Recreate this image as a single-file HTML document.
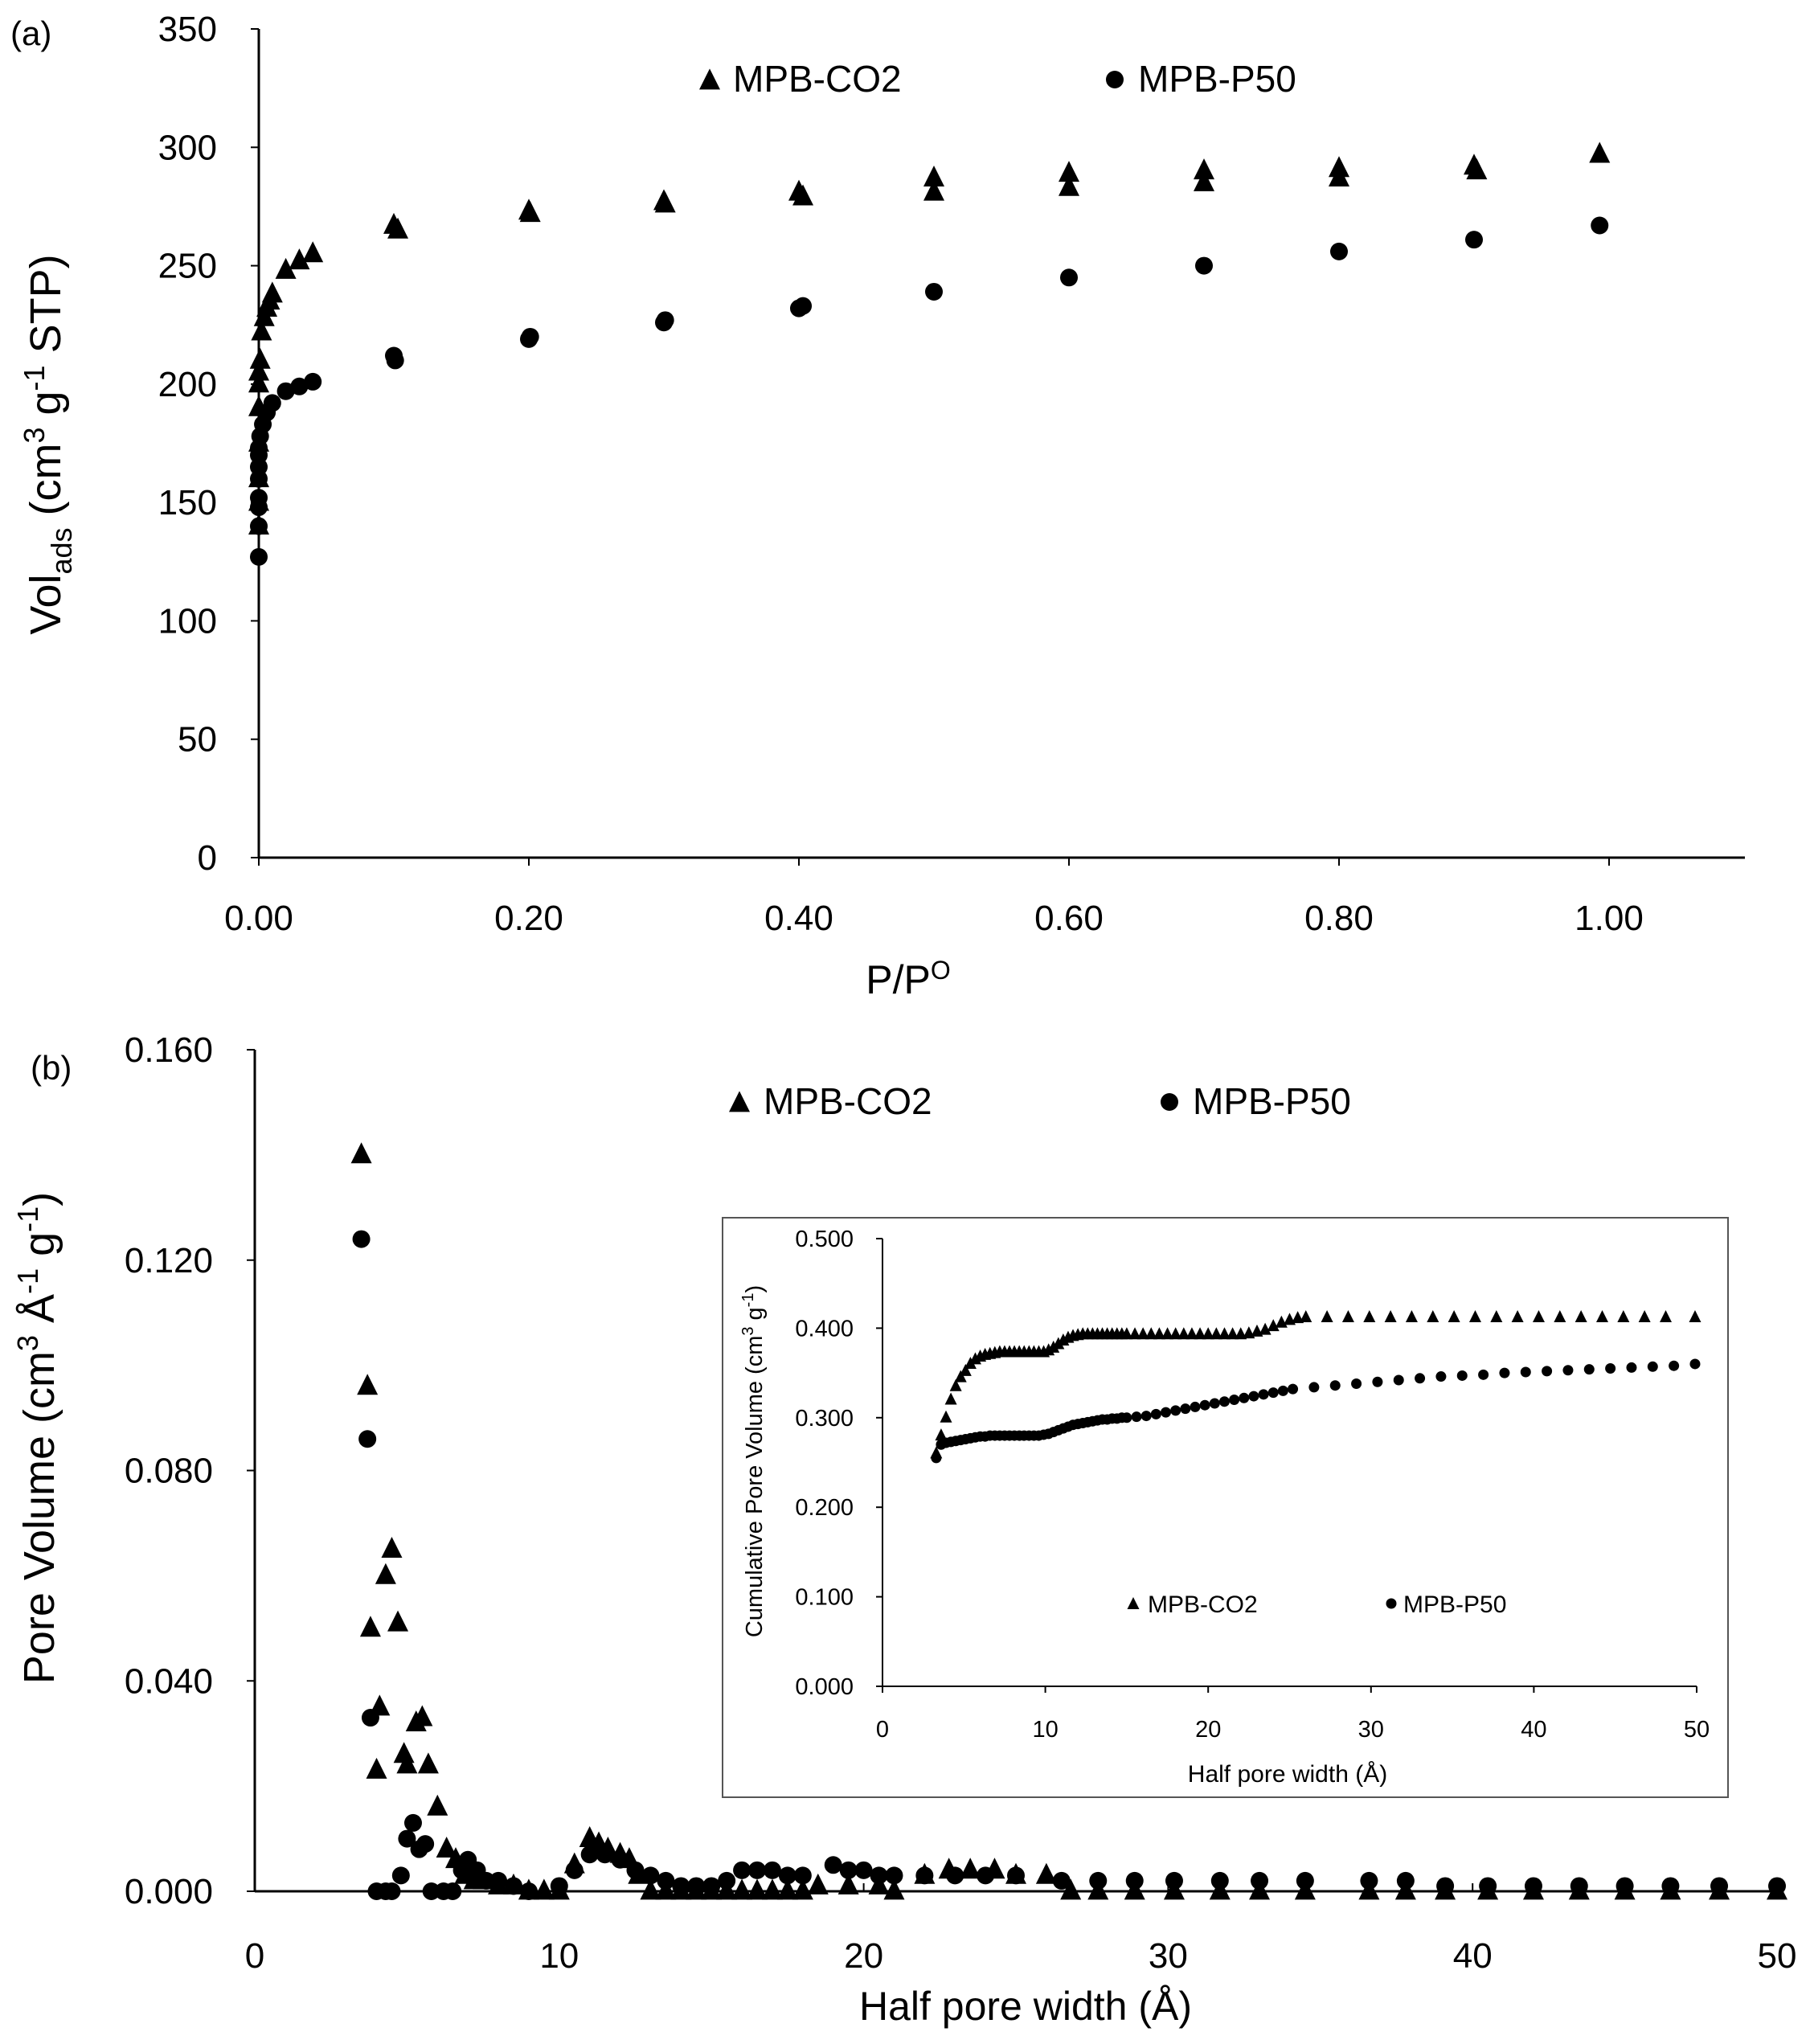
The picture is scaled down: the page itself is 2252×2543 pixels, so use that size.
<!DOCTYPE html>
<html><head><meta charset="utf-8">
<style>
html,body{margin:0;padding:0;background:#fff;}
svg{display:block;font-family:"Liberation Sans",sans-serif;}
</style></head>
<body>
<svg id="fig" width="2252" height="2543" viewBox="0 0 2252 2543" xmlns="http://www.w3.org/2000/svg"></svg>
<script>
// ---------- Panel (a) data ----------
const aCO2x=[0,0,0,0,0,0,0,0.001,0.002,0.004,0.006,0.008,0.01,0.02,0.03,0.04,0.1,0.103,0.2,0.201,0.3,0.301,0.4,0.403,0.5,0.5,0.6,0.6,0.7,0.7,0.8,0.8,0.9,0.902,0.993];
const aCO2y=[140,150,160,175,190,200,205,210,222,228,232,235,238,248,252,255,267,265,273,272,277,276,281,279,287,281,289,283,290,285,291,287,292,290,297];
const aP50x=[0,0,0,0,0,0,0,0,0.001,0.003,0.006,0.01,0.02,0.03,0.04,0.1,0.101,0.2,0.201,0.3,0.301,0.4,0.403,0.5,0.6,0.7,0.8,0.9,0.993];
const aP50y=[127,140,148,152,160,165,170,173,178,183,188,192,197,199,201,212,210,219,220,226,227,232,233,239,245,250,256,261,267];
const aXTicks=["0.00","0.20","0.40","0.60","0.80","1.00"];
const aYTicks=["0","50","100","150","200","250","300","350"];
// ---------- Panel (b) data ----------
const bCO2x=[3.5,3.7,3.8,4.0,4.1,4.3,4.5,4.7,4.9,5.0,5.3,5.5,5.7,6.0,6.3,6.6,6.9,7.2,7.5,8.0,8.5,9.0,9.5,10.0,10.5,11.0,11.3,11.6,12.0,12.3,12.6,13.0,13.5,14.0,14.5,15.0,15.5,16.0,16.5,17.0,17.5,18.0,18.5,19.5,20.5,21.0,22.0,22.8,23.5,24.3,25.0,26.0,26.8,27.7,28.9,30.2,31.7,33.0,34.5,36.6,37.8,39.1,40.5,42.0,43.5,45.0,46.5,48.1,50.0];
const bCO2y=[0.140,0.096,0.050,0.023,0.035,0.060,0.065,0.051,0.026,0.024,0.032,0.033,0.024,0.016,0.008,0.006,0.003,0.002,0.002,0.001,0.001,0,0,0,0.005,0.010,0.009,0.008,0.007,0.006,0.003,0,0,0,0,0,0,0,0,0,0,0,0.001,0.001,0.001,0,0.003,0.004,0.004,0.004,0.003,0.003,0,0,0,0,0,0,0,0,0,0,0,0,0,0,0,0,0];
const bP50x=[3.5,3.7,3.8,4.0,4.3,4.5,4.8,5.0,5.2,5.4,5.6,5.8,6.2,6.5,6.8,7.0,7.3,7.6,8.0,8.5,9.0,10.0,10.5,11.0,11.5,12.0,12.5,13.0,13.5,14.0,14.5,15.0,15.5,16.0,16.5,17.0,17.5,18.0,19.0,19.5,20.0,20.5,21.0,22.0,23.0,24.0,25.0,26.5,27.7,28.9,30.2,31.7,33.0,34.5,36.6,37.8,39.1,40.5,42.0,43.5,45.0,46.5,48.1,50.0];
const bP50y=[0.124,0.086,0.033,0,0,0,0.003,0.010,0.013,0.008,0.009,0,0,0,0.004,0.006,0.004,0.002,0.002,0.001,0,0.001,0.004,0.007,0.007,0.006,0.004,0.003,0.002,0.001,0.001,0.001,0.002,0.004,0.004,0.004,0.003,0.003,0.005,0.004,0.004,0.003,0.003,0.003,0.003,0.003,0.003,0.002,0.002,0.002,0.002,0.002,0.002,0.002,0.002,0.002,0.001,0.001,0.001,0.001,0.001,0.001,0.001,0.001];
const bXTicks=["0","10","20","30","40","50"];
const bYTicks=["0.000","0.040","0.080","0.120","0.160"];
// ---------- Inset data ----------
const iCO2x=[3.3,3.6,3.9,4.2,4.5,4.8,5.1,5.4,5.7,6.0,6.3,6.6,6.9,7.2,7.5,7.8,8.1,8.4,8.7,9.0,9.3,9.6,9.9,10.2,10.5,10.8,11.1,11.4,11.7,12.0,12.3,12.6,12.9,13.2,13.5,13.8,14.1,14.4,14.7,15.0,15.5,16,16.5,17,17.5,18,18.5,19,19.5,20,20.5,21,21.5,22,22.5,23,23.5,24,24.5,25,25.5,26,27.3,28.6,29.9,31.2,32.5,33.8,35.1,36.4,37.7,39,40.3,41.6,42.9,44.2,45.5,46.8,48.1,49.9];
const iCO2y=[0.26,0.28,0.30,0.32,0.335,0.345,0.352,0.36,0.365,0.368,0.37,0.371,0.372,0.373,0.373,0.373,0.373,0.373,0.373,0.373,0.373,0.373,0.373,0.375,0.378,0.382,0.386,0.389,0.391,0.392,0.393,0.393,0.393,0.393,0.393,0.393,0.393,0.393,0.393,0.393,0.393,0.393,0.393,0.393,0.393,0.393,0.393,0.393,0.393,0.393,0.393,0.393,0.393,0.393,0.394,0.396,0.398,0.402,0.406,0.409,0.411,0.412,0.412,0.412,0.412,0.412,0.412,0.412,0.412,0.412,0.412,0.412,0.412,0.412,0.412,0.412,0.412,0.412,0.412,0.412];
const iP50x=[3.3,3.6,3.9,4.2,4.5,4.8,5.1,5.4,5.7,6.0,6.3,6.6,6.9,7.2,7.5,7.8,8.1,8.4,8.7,9.0,9.3,9.6,9.9,10.2,10.5,10.8,11.1,11.4,11.7,12.0,12.3,12.6,12.9,13.2,13.5,13.8,14.1,14.4,14.7,15.0,15.6,16.2,16.8,17.4,18,18.6,19.2,19.8,20.4,21,21.6,22.2,22.8,23.4,24,24.6,25.2,26.5,27.8,29.1,30.4,31.7,33,34.3,35.6,36.9,38.2,39.5,40.8,42.1,43.4,44.7,46,47.3,48.6,49.9];
const iP50y=[0.255,0.27,0.272,0.273,0.274,0.275,0.276,0.277,0.278,0.279,0.279,0.28,0.28,0.28,0.28,0.28,0.28,0.28,0.28,0.28,0.28,0.28,0.281,0.282,0.284,0.286,0.288,0.29,0.292,0.293,0.294,0.295,0.296,0.297,0.298,0.298,0.299,0.299,0.3,0.3,0.301,0.302,0.304,0.306,0.308,0.31,0.312,0.314,0.316,0.318,0.32,0.322,0.324,0.326,0.328,0.33,0.332,0.334,0.336,0.338,0.34,0.342,0.344,0.346,0.347,0.348,0.35,0.351,0.352,0.353,0.354,0.355,0.356,0.357,0.358,0.36];
const iXTicks=["0","10","20","30","40","50"];
const iYTicks=["0.000","0.100","0.200","0.300","0.400","0.500"];

const NS="http://www.w3.org/2000/svg";
const svg=document.getElementById('fig');
function mk(tag,attrs,parent){const e=document.createElementNS(NS,tag);for(const k in attrs)e.setAttribute(k,attrs[k]);(parent||svg).appendChild(e);return e;}
function txt(s,x,y,size,anchor,parent){const t=mk('text',{x:x,y:y,'font-size':size,'text-anchor':anchor||'middle',fill:'#000'},parent);t.textContent=s;return t;}
function tri(x,y,s,parent){return mk('path',{d:`M${x},${y-s*0.6}L${x+s/2},${y+s*0.4}L${x-s/2},${y+s*0.4}Z`,fill:'#000'},parent);}
function dot(x,y,r,parent){return mk('circle',{cx:x,cy:y,r:r,fill:'#000'},parent);}

// ===== Panel (a) =====
const gA=mk('g',{});


const ax=v=>322+v*(2002-322);
const ay=v=>1067-v*(1067-36)/350;
mk('line',{x1:322,y1:36,x2:322,y2:1067,stroke:'#000','stroke-width':3},gA);
mk('line',{x1:322,y1:1067,x2:2171,y2:1067,stroke:'#000','stroke-width':3},gA);
aYTicks.forEach(s=>{const v=+s;mk('line',{x1:312,y1:ay(v),x2:322,y2:ay(v),stroke:'#000','stroke-width':2},gA);
 const t=txt(s,270,ay(v)+15,44,'end',gA);});
aXTicks.forEach(s=>{const v=+s;mk('line',{x1:ax(v),y1:1067,x2:ax(v),y2:1077,stroke:'#000','stroke-width':2},gA);
 const t=txt(s,ax(v),1157,44,'middle',gA);});
aCO2x.forEach((x,i)=>{const m=tri(ax(x),ay(aCO2y[i]),26,gA);});
aP50x.forEach((x,i)=>{const m=dot(ax(x),ay(aP50y[i]),11,gA);});
let t;
t=txt('(a)',13,56,42,'start',gA);
t=mk('text',{x:1130,y:1236,'font-size':50,'text-anchor':'middle'},gA);t.innerHTML='P/P<tspan font-size="32" dy="-18">O</tspan>';

t=mk('text',{x:0,y:0,'font-size':54,'text-anchor':'middle',transform:'translate(75,553) rotate(-90)'},gA);
t.innerHTML='Vol<tspan font-size="36" dy="14">ads</tspan><tspan dy="-14"> (cm</tspan><tspan font-size="36" dy="-20">3</tspan><tspan dy="20"> g</tspan><tspan font-size="36" dy="-20">-1</tspan><tspan dy="20"> STP)</tspan>';

let lg=mk('g',{},gA);
tri(883,101,26,lg);txt('MPB-CO2',912,114,46,'start',lg);
lg=mk('g',{},gA);
dot(1387,99,11,lg);txt('MPB-P50',1416,114,46,'start',lg);

// ===== Panel (b) =====
const gB=mk('g',{});


const bx=v=>317+v*(2211-317)/50;
const by=v=>2353-v*(2353-1306)/0.16;
mk('line',{x1:317,y1:1306,x2:317,y2:2353,stroke:'#000','stroke-width':3},gB);
mk('line',{x1:317,y1:2353,x2:2211,y2:2353,stroke:'#000','stroke-width':3},gB);
bYTicks.forEach(s=>{const v=+s;mk('line',{x1:307,y1:by(v),x2:317,y2:by(v),stroke:'#000','stroke-width':2},gB);
 const t=txt(s,265,by(v)+15,44,'end',gB);});
bXTicks.forEach(s=>{const v=+s;mk('line',{x1:bx(v),y1:2343,x2:bx(v),y2:2353,stroke:'#000','stroke-width':2},gB);
 const t=txt(s,bx(v),2448,44,'middle',gB);});
bCO2x.forEach((x,i)=>{const m=tri(bx(x),by(bCO2y[i]),26,gB);});
bP50x.forEach((x,i)=>{const m=dot(bx(x),by(bP50y[i]),11,gB);});
t=txt('(b)',38,1343,42,'start',gB);
t=txt('Half pore width (Å)',1276,2513,50,'middle',gB);
t=mk('text',{x:0,y:0,'font-size':54,'text-anchor':'middle',transform:'translate(67,1789) rotate(-90)'},gB);
t.innerHTML='Pore Volume (cm<tspan font-size="36" dy="-20">3</tspan><tspan dy="20"> Å</tspan><tspan font-size="36" dy="-20">-1</tspan><tspan dy="20"> g</tspan><tspan font-size="36" dy="-20">-1</tspan><tspan dy="20">)</tspan>';

lg=mk('g',{},gB);
tri(920,1373,26,lg);txt('MPB-CO2',950,1386,46,'start',lg);
lg=mk('g',{},gB);
dot(1455,1371,11,lg);txt('MPB-P50',1484,1386,46,'start',lg);

// ===== Inset =====
const gI=mk('g',{});


mk('rect',{x:899,y:1515,width:1251,height:721,fill:'#fff',stroke:'#555','stroke-width':2},gI);
const ix=v=>1098+v*(2111-1098)/50;
const iy=v=>2098-v*(2098-1541)/0.5;
mk('line',{x1:1098,y1:1541,x2:1098,y2:2098,stroke:'#000','stroke-width':2},gI);
mk('line',{x1:1098,y1:2098,x2:2111,y2:2098,stroke:'#000','stroke-width':2},gI);
iYTicks.forEach(s=>{const v=+s;mk('line',{x1:1090,y1:iy(v),x2:1098,y2:iy(v),stroke:'#000','stroke-width':2},gI);
 const t=txt(s,1062,iy(v)+10,29,'end',gI);});
iXTicks.forEach(s=>{const v=+s;mk('line',{x1:ix(v),y1:2098,x2:ix(v),y2:2106,stroke:'#000','stroke-width':2},gI);
 const t=txt(s,ix(v),2161,29,'middle',gI);});
iCO2x.forEach((x,i)=>{const m=tri(ix(x),iy(iCO2y[i]),15,gI);});
iP50x.forEach((x,i)=>{const m=dot(ix(x),iy(iP50y[i]),6.5,gI);});
t=txt('Half pore width (Å)',1602,2217,30,'middle',gI);
t=mk('text',{x:0,y:0,'font-size':29,'text-anchor':'middle',transform:'translate(948,1818) rotate(-90)'},gI);
t.innerHTML='Cumulative Pore Volume (cm<tspan font-size="20" dy="-11">3</tspan><tspan dy="11"> g</tspan><tspan font-size="20" dy="-11">-1</tspan><tspan dy="11">)</tspan>';

lg=mk('g',{},gI);
tri(1410,1996,15,lg);txt('MPB-CO2',1428,2006,30,'start',lg);
lg=mk('g',{},gI);
dot(1731,1995,6.5,lg);txt('MPB-P50',1746,2006,30,'start',lg);
</script>
</body></html>
